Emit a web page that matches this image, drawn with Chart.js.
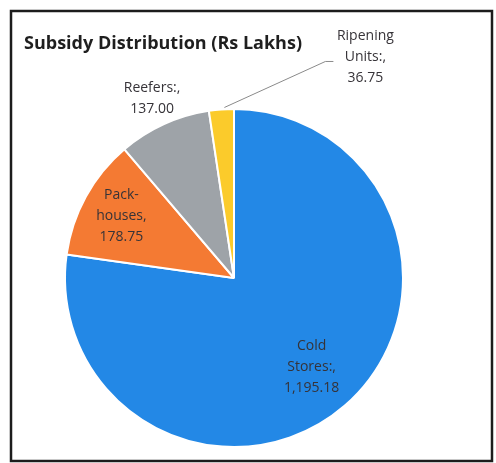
<!DOCTYPE html>
<html>
<head>
<meta charset="utf-8">
<script src="https://cdn.jsdelivr.net/npm/chart.js"></script>
<style>
    html, body { margin: 0; padding: 0; background: #ffffff; }
    #box { width: 496px; height: 463px; }
</style>
</head>
<body>
<div id="box"><canvas id="grafico" width="496" height="463"></canvas></div>
<script>
var categorias = ['Cold Stores', 'Pack-houses', 'Reefers', 'Ripening Units']
var valores = [1195.18, 178.75, 137.00, 36.75]
var textoValores = ['1,195.18', '178.75', '137.00', '36.75']
var cores = ['#2388e6', '#f47a33', '#9ea3a8', '#fbcb2b']

var titulo = 'Subsidy Distribution (Rs Lakhs)'

// linhas de cada rótulo
var linhasRotulo = [
    ['Cold', 'Stores:,', textoValores[0]],
    ['Pack-', 'houses,', textoValores[1]],
    ['Reefers:,', textoValores[2]],
    ['Ripening', 'Units:,', textoValores[3]]
]

// onde cada rótulo fica: fração do raio no ângulo médio, ou deslocado com linha guia
var posRotulo = [
    { raio: 0.70 },
    { raio: 0.76 },
    { raio: 1.17 },
    { guia: true, dx: 144, dy: -52 }
]

var fonteTexto = '14px "Open Sans"'
var corTexto = '#363338'

const molduraPlugin = {
    id: 'moldura',
    afterDraw(chart) {
        var ctx = chart.ctx
        ctx.save()
        ctx.strokeStyle = '#1c1c1c'
        ctx.lineWidth = 2.5
        ctx.strokeRect(11, 11, 481, 450)

        ctx.fillStyle = '#1f1f1f'
        ctx.font = 'bold 18px "Open Sans"'
        ctx.textBaseline = 'middle'
        ctx.textAlign = 'left'
        ctx.fillText(titulo, 24, 44)
        ctx.restore()
    }
}

const rotulosPlugin = {
    id: 'rotulos',
    afterDatasetsDraw(chart) {
        var ctx = chart.ctx
        var meta = chart.getDatasetMeta(0)
        ctx.save()
        ctx.font = fonteTexto
        ctx.fillStyle = corTexto
        ctx.textAlign = 'center'
        ctx.textBaseline = 'middle'

        meta.data.forEach(function(arco, i){
            var p = arco.getProps(['x', 'y', 'startAngle', 'endAngle', 'outerRadius'], true)
            var meio = (p.startAngle + p.endAngle) / 2
            var cfg = posRotulo[i]
            var linhas = linhasRotulo[i]
            var alt = 21
            var cx, cy

            if(cfg.guia){
                var x0 = p.x + Math.cos(meio) * p.outerRadius
                var y0 = p.y + Math.sin(meio) * p.outerRadius
                cx = x0 + cfg.dx
                cy = y0 + cfg.dy
                ctx.strokeStyle = '#8a8a8a'
                ctx.lineWidth = 1
                ctx.beginPath()
                ctx.moveTo(x0 + 3, y0 - 2)
                ctx.lineTo(cx - 40, cy + 4)
                ctx.lineTo(cx - 32, cy + 4)
                ctx.stroke()
            } else {
                cx = p.x + Math.cos(meio) * p.outerRadius * cfg.raio
                cy = p.y + Math.sin(meio) * p.outerRadius * cfg.raio
            }

            var topo = cy - (linhas.length - 1) * alt / 2
            linhas.forEach(function(l, k){
                ctx.fillText(l, cx, topo + k * alt)
            })
        })
        ctx.restore()
    }
}

var ctx = document.getElementById('grafico')

new Chart(ctx, {
    type: 'pie',
    data: {
        labels: categorias,
        datasets: [{
            data: valores,
            backgroundColor: cores,
            borderColor: '#ffffff',
            borderWidth: 2
        }]
    },
    options: {
        responsive: false,
        animation: false,
        layout: {
            padding: { left: 64, right: 92, top: 108, bottom: 15 }
        },
        plugins: {
            legend: { display: false },
            tooltip: { enabled: false },
            title: { display: false }
        }
    },
    plugins: [rotulosPlugin, molduraPlugin]
});
</script>
</body>
</html>
